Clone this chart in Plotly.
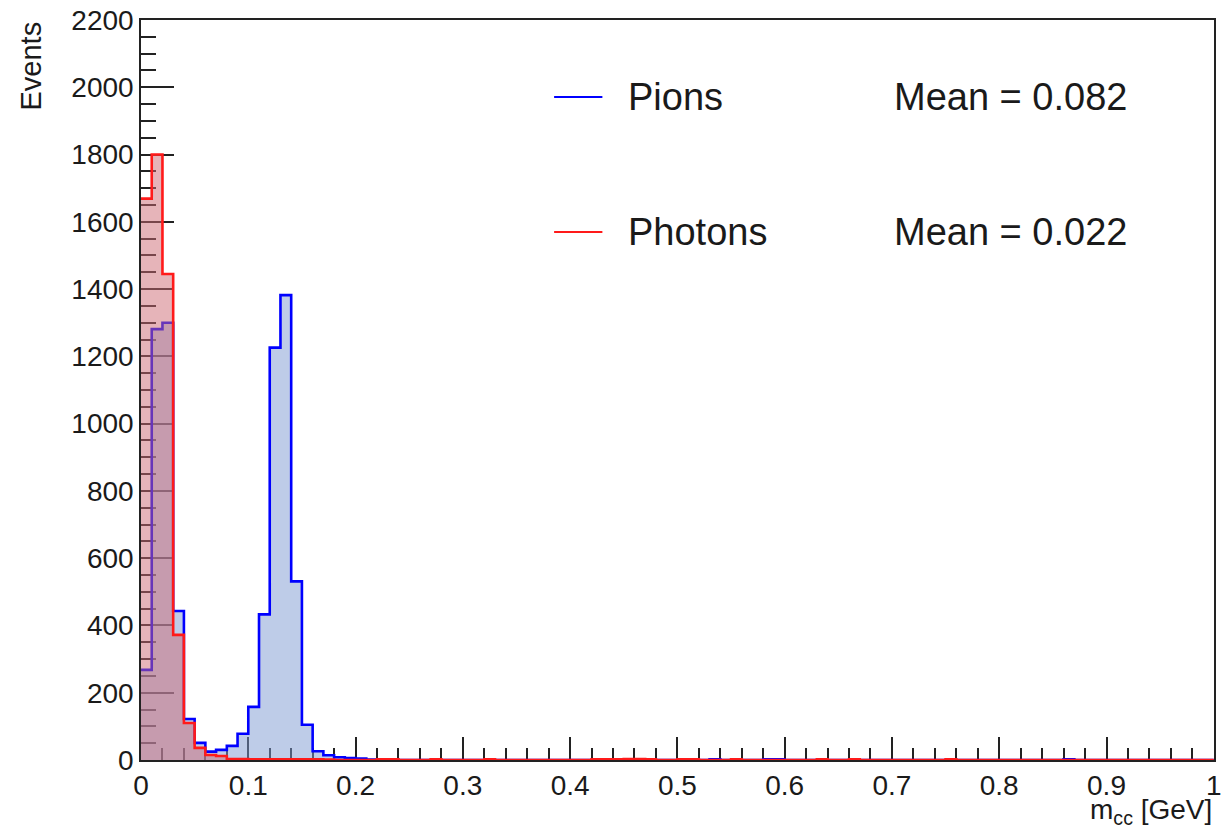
import plotly.graph_objects as go

# Histogram binning: 100 bins of 0.01 GeV between 0 and 1
bin_low = 0.0
bin_width = 0.01
n_bins = 100

# Pion candidates: counts per bin
pions = [0] * n_bins
pions_head = [268, 1281, 1300, 443, 122, 51, 25, 30, 42, 78,
              158, 433, 1226, 1382, 531, 105, 26, 14, 8, 6,
              4, 1, 1]
pions[:len(pions_head)] = pions_head
for b, c in {45: 2, 46: 2, 53: 2, 58: 2, 59: 2, 86: 2}.items():
    pions[b] = c

# Photon conversions: counts per bin
photons = [0] * n_bins
photons_head = [1669, 1800, 1445, 372, 110, 36, 15, 12, 3, 3,
                2, 2, 2, 2, 2, 2, 2, 1]
photons[:len(photons_head)] = photons_head
for b, c in {22: 2, 23: 2, 27: 2, 32: 2, 42: 2, 43: 2, 44: 2, 45: 3,
             46: 3, 47: 2, 50: 2, 51: 2, 55: 2, 63: 2, 66: 2, 75: 2}.items():
    photons[b] = c

series_names = ["Pions", "Photons"]
series_means = ["Mean = 0.082", "Mean = 0.022"]

x_ticks = [0, 0.1, 0.2, 0.3, 0.4, 0.5, 0.6, 0.7, 0.8, 0.9, 1]
x_tick_text = ["0", "0.1", "0.2", "0.3", "0.4", "0.5", "0.6", "0.7", "0.8", "0.9", "1"]
y_ticks = list(range(0, 2201, 200))

edges = [bin_low + i * bin_width for i in range(n_bins + 1)]

FONT = "Liberation Sans, Arial, sans-serif"
TXT = "#1a1a1a"


def step_trace(counts, line_color, fill_color, name):
    return go.Scatter(
        x=edges,
        y=list(counts) + [counts[-1]],
        mode="lines",
        line=dict(color=line_color, width=2.6, shape="hv"),
        fill="tozeroy",
        fillcolor=fill_color,
        name=name,
        showlegend=False,
        hoverinfo="x+y",
    )


fig = go.Figure()
fig.add_trace(step_trace(pions, "#0000ff", "rgba(125,153,209,0.5)", series_names[0]))
fig.add_trace(step_trace(photons, "#ff1a1a", "rgba(205,105,115,0.5)", series_names[1]))

axis_common = dict(
    showline=True, mirror=True, linecolor="#222", linewidth=1.5,
    showgrid=False, zeroline=False, ticks="inside", tickcolor="#222",
    tickwidth=1.5, layer="below traces",
    tickfont=dict(family=FONT, size=28, color=TXT),
)

fig.update_xaxes(
    range=[0, 1.0002], tickvals=x_ticks, ticktext=x_tick_text, ticklen=23,
    ticklabeloverflow="allow",
    minor=dict(dtick=0.02, ticks="inside", ticklen=12, tickcolor="#222", tickwidth=1.5),
    **axis_common,
)
fig.update_yaxes(
    range=[0, 2200], tickvals=y_ticks, ticklen=33,
    minor=dict(dtick=50, ticks="inside", ticklen=15, tickcolor="#222", tickwidth=1.5),
    **axis_common,
)

# Legend: line samples, labels and means
legend_rows = [(0.896, "#0000ff"), (0.7135, "#ff1a1a")]
for (yp, col), name, mean in zip(legend_rows, series_names, series_means):
    fig.add_shape(type="line", xref="paper", yref="paper",
                  x0=0.385, x1=0.430, y0=yp, y1=yp,
                  line=dict(color=col, width=2))
    fig.add_annotation(xref="paper", yref="paper", x=0.452, y=yp,
                       xanchor="left", yanchor="middle", text=name, showarrow=False,
                       font=dict(family=FONT, size=38, color=TXT))
    fig.add_annotation(xref="paper", yref="paper", x=0.700, y=yp,
                       xanchor="left", yanchor="middle", text=mean, showarrow=False,
                       font=dict(family=FONT, size=38, color=TXT))

# Axis titles
fig.add_annotation(xref="paper", yref="paper", x=0, y=1, xshift=-111,
                   xanchor="center", yanchor="top", textangle=-90,
                   text="Events", showarrow=False,
                   font=dict(family=FONT, size=29, color=TXT))
fig.add_annotation(xref="paper", yref="paper", x=1, y=0, yshift=-32,
                   xanchor="right", yanchor="top",
                   text="m<sub>cc</sub> [GeV]", showarrow=False,
                   font=dict(family=FONT, size=28, color=TXT))

fig.update_layout(
    width=1227, height=826,
    margin=dict(l=141, r=5, t=20, b=66),
    paper_bgcolor="white", plot_bgcolor="white",
    showlegend=False,
)

fig.write_html("out.html")
